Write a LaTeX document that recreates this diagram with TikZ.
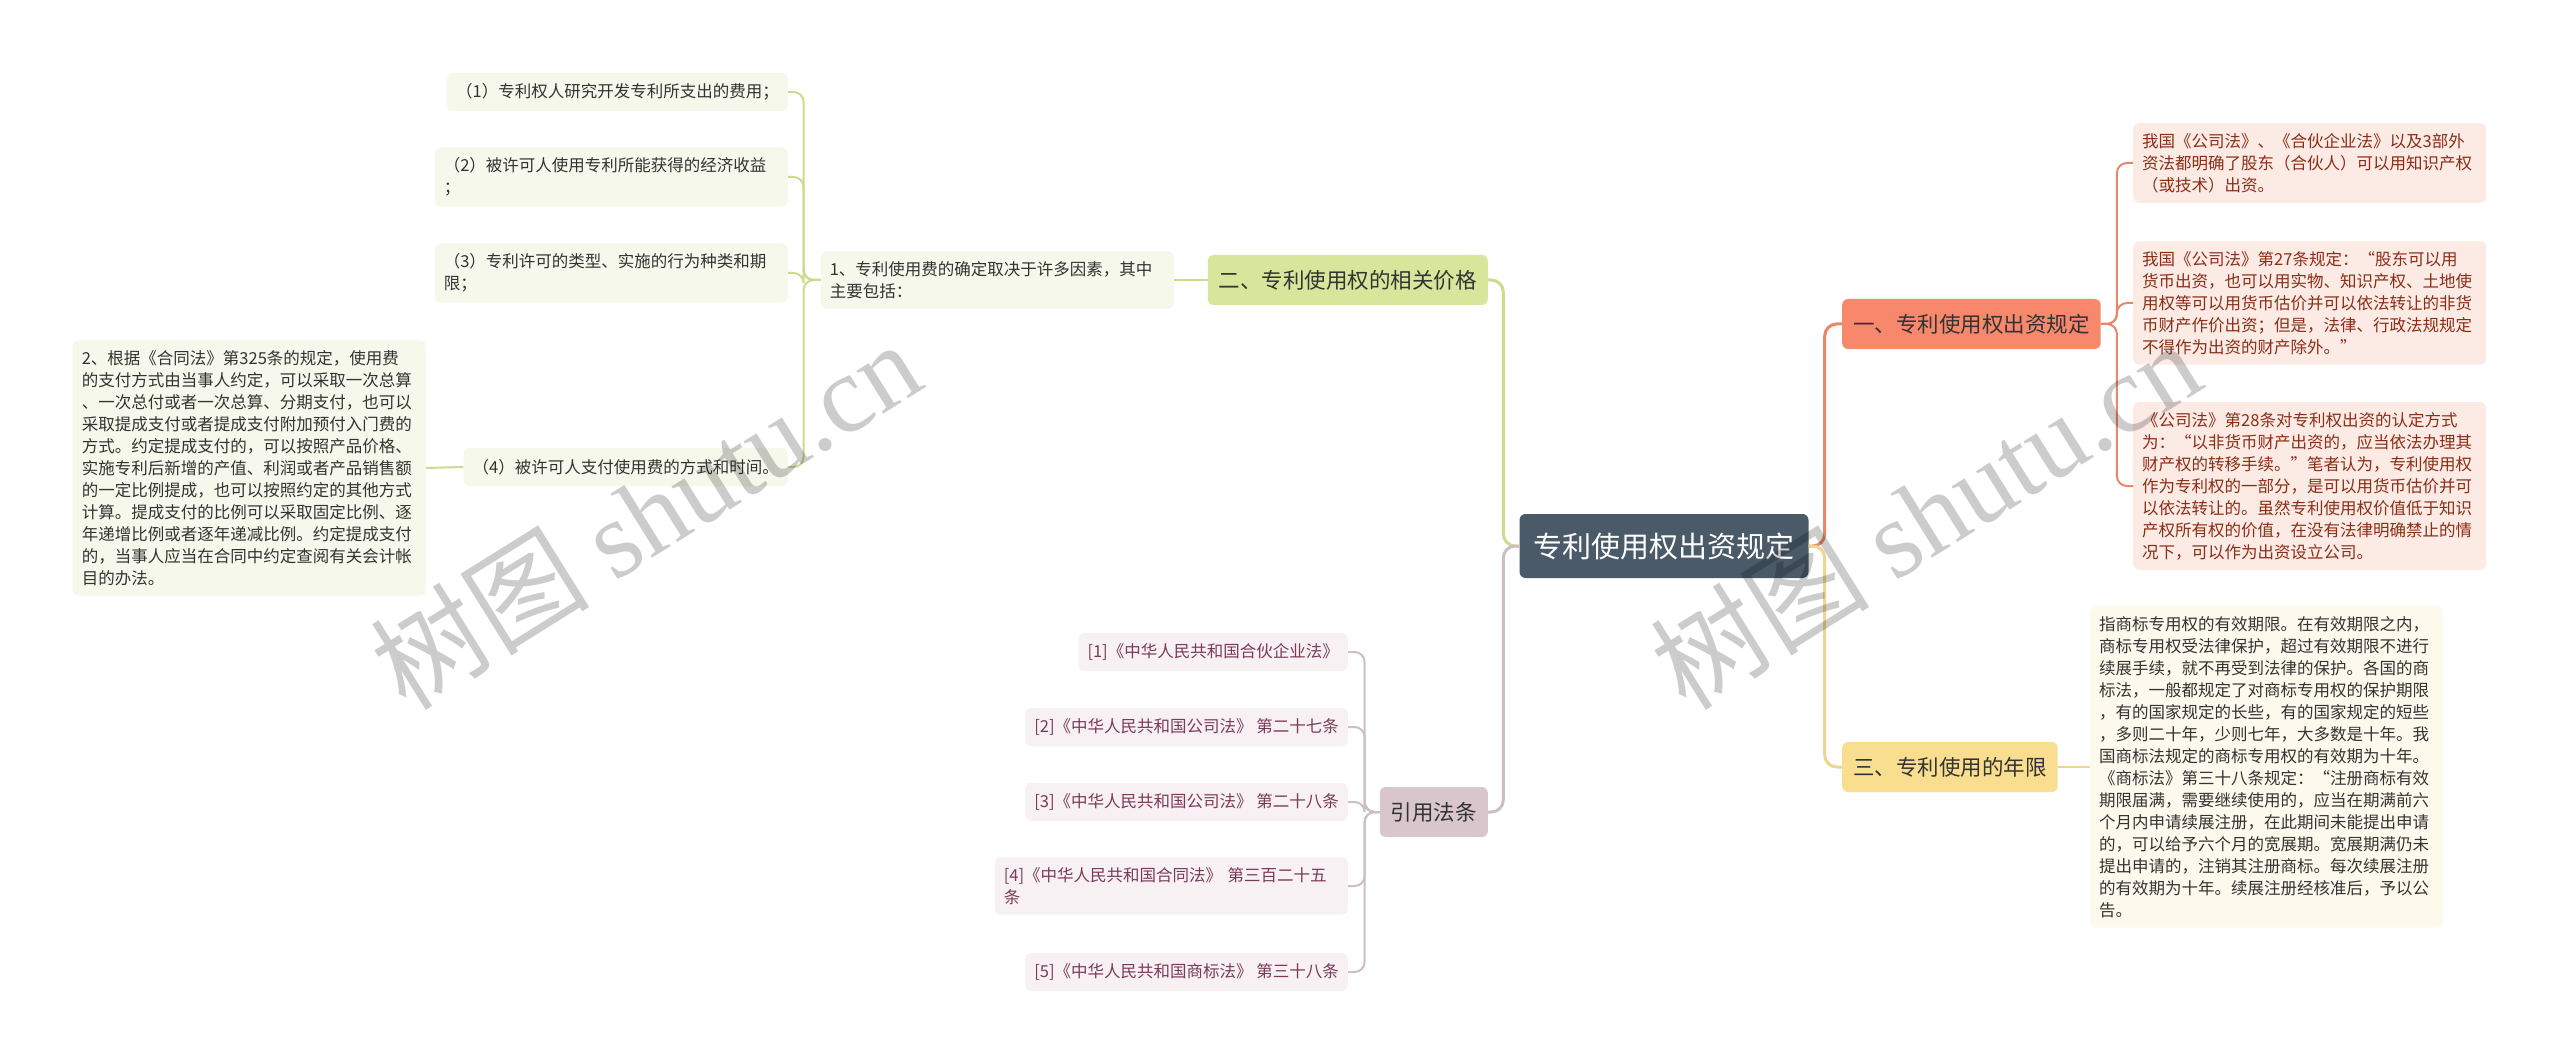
\documentclass[tikz,border=0pt]{standalone}
\usepackage{fontspec}
\setmainfont{Noto Sans CJK SC}
\newfontfamily\markfont{Liberation Serif}
\usetikzlibrary{positioning}

\definecolor{rootfill}{HTML}{4A5A69}
\definecolor{orangefill}{HTML}{F7886C}
\definecolor{orangeline}{HTML}{E9876B}
\definecolor{pinkfill}{HTML}{FCEAE5}
\definecolor{pinktext}{HTML}{8A2E16}
\definecolor{greenfill}{HTML}{D7E69B}
\definecolor{greenline}{HTML}{CCDC8E}
\definecolor{greenleaf}{HTML}{F5F8EA}
\definecolor{yellowfill}{HTML}{F8DE8E}
\definecolor{yellowline}{HTML}{EFD68E}
\definecolor{yellowleaf}{HTML}{FDF9EC}
\definecolor{mauvefill}{HTML}{D9C6CD}
\definecolor{mauveline}{HTML}{CDBDC4}
\definecolor{mauveleaf}{HTML}{F7F1F3}
\definecolor{mauvetext}{HTML}{7C3A58}
\definecolor{leaftext}{HTML}{333333}

\tikzset{
  rootbox/.style={fill=rootfill, text=white, rounded corners=6pt, inner xsep=14pt, minimum height=64pt, font=\fontsize{29}{34}\selectfont},
  branchbox/.style={rounded corners=6pt, inner xsep=11pt, minimum height=50pt, text=leaftext, font=\fontsize{21.5}{26}\selectfont},
  leafbox/.style={rounded corners=6pt, inner xsep=9pt, inner ysep=10pt, minimum height=38pt, align=left, font=\fontsize{16.5}{22}\selectfont},
  wideleaf/.style={leafbox, text width=335pt},
  link/.style={line width=2pt, rounded corners=10pt},
  mainlink/.style={line width=3pt, rounded corners=12pt},
}

\begin{document}
\begin{tikzpicture}[x=1pt, y=-1pt]
    \fill[white] (0,0) rectangle (2560,1064);
    \useasboundingbox (0,0) rectangle (2560,1064);

    % Centre topic
    \node[rootbox] (root) at (1664,546) {专利使用权出资规定};

    % Right side: first branch and its notes
    \node[branchbox, fill=orangefill, anchor=west] (invest) at (1842,324) {一、专利使用权出资规定};
    \node[wideleaf, fill=pinkfill, text=pinktext, anchor=west] (invest1) at (2133,163)
        {我国《公司法》、《合伙企业法》以及3部外\\资法都明确了股东（合伙人）可以用知识产权\\（或技术）出资。};
    \node[wideleaf, fill=pinkfill, text=pinktext, anchor=west] (invest2) at (2133,303)
        {我国《公司法》第27条规定：“股东可以用\\货币出资，也可以用实物、知识产权、土地使\\用权等可以用货币估价并可以依法转让的非货\\币财产作价出资；但是，法律、行政法规规定\\不得作为出资的财产除外。”};
    \node[wideleaf, fill=pinkfill, text=pinktext, anchor=west] (invest3) at (2133,486)
        {《公司法》第28条对专利权出资的认定方式\\为：“以非货币财产出资的，应当依法办理其\\财产权的转移手续。”笔者认为，专利使用权\\作为专利权的一部分，是可以用货币估价并可\\以依法转让的。虽然专利使用权价值低于知识\\产权所有权的价值，在没有法律明确禁止的情\\况下，可以作为出资设立公司。};

    % Right side: third branch
    \node[branchbox, fill=yellowfill, anchor=west] (years) at (1842,767) {三、专利使用的年限};
    \node[wideleaf, fill=yellowleaf, text=leaftext, anchor=west] (yearsnote) at (2090,767)
        {指商标专用权的有效期限。在有效期限之内，\\商标专用权受法律保护，超过有效期限不进行\\续展手续，就不再受到法律的保护。各国的商\\标法，一般都规定了对商标专用权的保护期限\\，有的国家规定的长些，有的国家规定的短些\\，多则二十年，少则七年，大多数是十年。我\\国商标法规定的商标专用权的有效期为十年。\\《商标法》第三十八条规定：“注册商标有效\\期限届满，需要继续使用的，应当在期满前六\\个月内申请续展注册，在此期间未能提出申请\\的，可以给予六个月的宽展期。宽展期满仍未\\提出申请的，注销其注册商标。每次续展注册\\的有效期为十年。续展注册经核准后，予以公\\告。};

    % Left side: second branch
    \node[branchbox, fill=greenfill, anchor=east] (price) at (1488,280) {二、专利使用权的相关价格};
    \node[wideleaf, fill=greenleaf, text=leaftext, anchor=east] (pricenote) at (1174,280)
        {1、专利使用费的确定取决于许多因素，其中\\主要包括：};
    \node[leafbox, fill=greenleaf, text=leaftext, anchor=east] (cost1) at (788,92)
        {（1）专利权人研究开发专利所支出的费用；};
    \node[wideleaf, fill=greenleaf, text=leaftext, anchor=east] (cost2) at (788,177)
        {（2）被许可人使用专利所能获得的经济收益\\；};
    \node[wideleaf, fill=greenleaf, text=leaftext, anchor=east] (cost3) at (788,273)
        {（3）专利许可的类型、实施的行为种类和期\\限；};
    \node[leafbox, fill=greenleaf, text=leaftext, anchor=east] (cost4) at (788,467)
        {（4）被许可人支付使用费的方式和时间。};
    \node[wideleaf, fill=greenleaf, text=leaftext, anchor=east] (cost4note) at (426,468)
        {2、根据《合同法》第325条的规定，使用费\\的支付方式由当事人约定，可以采取一次总算\\、一次总付或者一次总算、分期支付，也可以\\采取提成支付或者提成支付附加预付入门费的\\方式。约定提成支付的，可以按照产品价格、\\实施专利后新增的产值、利润或者产品销售额\\的一定比例提成，也可以按照约定的其他方式\\计算。提成支付的比例可以采取固定比例、逐\\年递增比例或者逐年递减比例。约定提成支付\\的，当事人应当在合同中约定查阅有关会计帐\\目的办法。};

    % Left side: cited laws
    \node[branchbox, fill=mauvefill, anchor=east] (laws) at (1488,812) {引用法条};
    \node[leafbox, fill=mauveleaf, text=mauvetext, anchor=east] (law1) at (1348,652) {[1]《中华人民共和国合伙企业法》};
    \node[leafbox, fill=mauveleaf, text=mauvetext, anchor=east] (law2) at (1348,727) {[2]《中华人民共和国公司法》 第二十七条};
    \node[leafbox, fill=mauveleaf, text=mauvetext, anchor=east] (law3) at (1348,802) {[3]《中华人民共和国公司法》 第二十八条};
    \node[wideleaf, fill=mauveleaf, text=mauvetext, anchor=east] (law4) at (1348,886) {[4]《中华人民共和国合同法》 第三百二十五\\条};
    \node[leafbox, fill=mauveleaf, text=mauvetext, anchor=east] (law5) at (1348,972) {[5]《中华人民共和国商标法》 第三十八条};

    % Connect centre to branches
    \draw[mainlink, orangeline] (root.east) -- ++(16,0) |- (invest.west);
    \draw[mainlink, yellowline] (root.east) -- ++(16,0) |- (years.west);
    \draw[mainlink, greenline] (root.west) -- ++(-16,0) |- (price.east);
    \draw[mainlink, mauveline] (root.west) -- ++(-16,0) |- (laws.east);

    % Connect branches to notes
    \foreach \n in {invest1,invest2,invest3}
        \draw[link, orangeline] (invest.east) -- ++(16,0) |- (\n.west);
    \draw[link, yellowline] (years.east) -- (yearsnote.west);
    \draw[link, greenline] (price.west) -- (pricenote.east);
    \foreach \n in {cost1,cost2,cost3,cost4}
        \draw[link, greenline] (pricenote.west) -- ++(-17,0) |- (\n.east);
    \draw[link, greenline] (cost4.west) -- (cost4note.east);
    \foreach \n in {law1,law2,law3,law4,law5}
        \draw[link, mauveline] (laws.west) -- ++(-15,0) |- (\n.east);

    % Watermarks
    \node[rotate=32, text=black, opacity=0.2, font=\fontsize{110}{120}\selectfont] (mark1) at (645,514) {树图 {\markfont shutu.cn}};
    \node[rotate=32, text=black, opacity=0.2, font=\fontsize{110}{120}\selectfont] (mark2) at (1925,514) {树图 {\markfont shutu.cn}};
\end{tikzpicture}
\end{document}
